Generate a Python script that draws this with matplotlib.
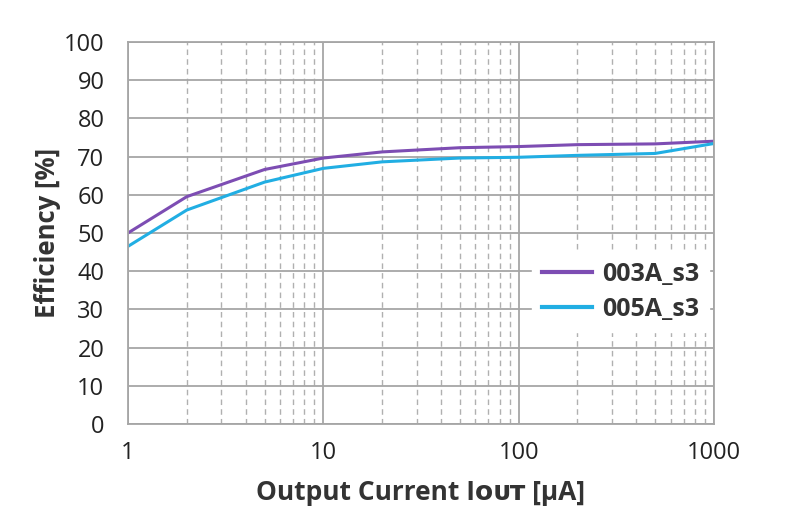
import numpy as np
import matplotlib.pyplot as plt

# ============================================================
# DATA
# ============================================================

current_ua = [1, 2, 5, 10, 20, 50, 100, 200, 500, 1000]

eff_003a = [50.0, 59.5, 66.6, 69.6, 71.2, 72.3, 72.6, 73.1, 73.3, 74.0]
eff_005a = [46.5, 56.0, 63.3, 66.9, 68.6, 69.6, 69.8, 70.3, 70.8, 73.4]

labels = ["003A_s3", "005A_s3"]

# ============================================================
# PLOT
# ============================================================

plt.rcParams['font.family'] = ['Open Sans', 'DejaVu Sans']

fig = plt.figure(figsize=(8.0, 5.16), dpi=100)
ax = fig.add_axes([0.16, 0.178, 0.7325, 0.741])

ax.plot(current_ua, eff_003a, color="#7d4db3", linewidth=2.2, label=labels[0])
ax.plot(current_ua, eff_005a, color="#21aee3", linewidth=2.2, label=labels[1])

ax.set_xscale("log")
ax.set_xlim(1, 1000)
ax.set_ylim(0, 100)
ax.set_yticks(np.arange(0, 101, 10))
ax.set_xticks([1, 10, 100, 1000])
ax.set_xticklabels(["1", "10", "100", "1000"])

ax.grid(True, which="major", color="#a6a6a6", linewidth=1.3, linestyle="-")
ax.grid(True, which="minor", axis="x", color="#b0b0b0", linewidth=1.0,
        linestyle=(0, (4, 3)))
ax.set_axisbelow(True)

for s in ax.spines.values():
    s.set_color("#a6a6a6")
    s.set_linewidth(1.3)

ax.tick_params(which="both", length=0, labelsize=17, colors="#222222")
ax.tick_params(axis="y", pad=17)
ax.tick_params(axis="x", pad=12)

ax.set_ylabel("Efficiency [%]", fontsize=18.5, fontweight="bold",
              color="#333333", labelpad=2)
ax.set_xlabel("Output Current I\u1d0f\u1d1c\u1d1b [\u03bcA]", fontsize=19,
              fontweight="bold", color="#333333", labelpad=10)

leg = ax.legend(loc="center right", bbox_to_anchor=(1.0, 0.345),
                fontsize=18, frameon=True, handlelength=2.0,
                handletextpad=0.4, borderaxespad=0.2, labelspacing=0.4)
leg.get_frame().set_edgecolor("white")
leg.get_frame().set_facecolor("white")
leg.get_frame().set_alpha(1.0)
for t in leg.get_texts():
    t.set_fontweight("bold")
    t.set_color("#333333")
for h in leg.get_lines():
    h.set_linewidth(3)

plt.savefig("out.png", dpi=100)
